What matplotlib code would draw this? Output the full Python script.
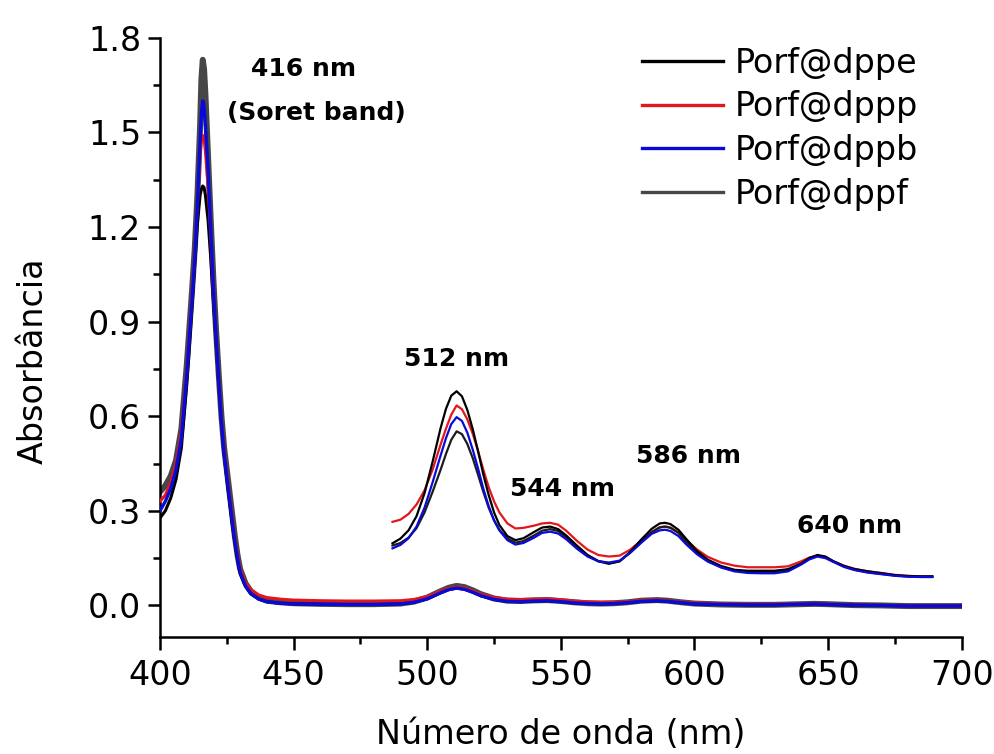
import matplotlib
matplotlib.use("Agg")
import matplotlib.pyplot as plt
from matplotlib.lines import Line2D
from matplotlib.ticker import MultipleLocator, FormatStrFormatter

plt.rcParams['font.family'] = ['DejaVu Sans']

# ---------------- data ----------------
series_names = ["Porf@dppe", "Porf@dppp", "Porf@dppb", "Porf@dppf"]
series_colors = ["#000000", "#e3161b", "#0a0ad8", "#474747"]

wl_full = [400, 402, 404, 406, 408, 410, 411, 412, 413, 414, 415, 415.5, 416, 416.5, 417, 418, 419,
           420, 421, 422, 423, 424, 425, 426, 427, 428, 429, 430, 432, 434, 437, 440,
           445, 450, 460, 470, 480, 490, 495, 500, 505, 508, 511, 514, 517, 520, 525,
           530, 535, 540, 545, 550, 555, 560, 565, 570, 575, 580, 586, 590, 595, 600,
           610, 620, 630, 640, 645, 650, 660, 670, 680, 690, 700]

abs_dppe = [0.277, 0.30, 0.34, 0.40, 0.50, 0.70, 0.82, 0.95, 1.08, 1.21, 1.30, 1.32, 1.33, 1.325, 1.30, 1.22, 1.10,
            0.96, 0.83, 0.70, 0.58, 0.48, 0.40, 0.33, 0.26, 0.20, 0.145, 0.10, 0.06, 0.036, 0.02, 0.012,
            0.007, 0.005, 0.004, 0.003, 0.003, 0.005, 0.01, 0.021, 0.04, 0.05, 0.055, 0.051, 0.042, 0.031, 0.019,
            0.013, 0.012, 0.014, 0.015, 0.012, 0.008, 0.006, 0.005, 0.006, 0.009, 0.013, 0.015, 0.013, 0.009, 0.005,
            0.003, 0.002, 0.002, 0.004, 0.005, 0.003, 0.001, 0.0, -0.002, -0.002, -0.002]

abs_dppp = [0.33, 0.35, 0.39, 0.45, 0.55, 0.74, 0.86, 0.98, 1.11, 1.27, 1.43, 1.475, 1.49, 1.48, 1.44, 1.33, 1.17,
            0.99, 0.85, 0.71, 0.59, 0.49, 0.42, 0.35, 0.28, 0.215, 0.16, 0.115, 0.072, 0.05, 0.033, 0.025,
            0.02, 0.017, 0.015, 0.014, 0.014, 0.015, 0.019, 0.028, 0.045, 0.054, 0.058, 0.055, 0.046, 0.036, 0.025,
            0.02, 0.019, 0.02, 0.021, 0.018, 0.014, 0.011, 0.01, 0.01, 0.012, 0.016, 0.017, 0.015, 0.011, 0.008,
            0.005, 0.004, 0.004, 0.005, 0.006, 0.004, 0.002, 0.0, -0.002, -0.002, -0.002]

abs_dppb = [0.30, 0.33, 0.37, 0.43, 0.53, 0.73, 0.85, 0.97, 1.10, 1.27, 1.47, 1.56, 1.60, 1.58, 1.52, 1.38, 1.19,
            1.00, 0.85, 0.71, 0.58, 0.48, 0.41, 0.34, 0.27, 0.205, 0.15, 0.105, 0.062, 0.038, 0.02, 0.012,
            0.007, 0.005, 0.004, 0.003, 0.003, 0.005, 0.01, 0.021, 0.04, 0.05, 0.055, 0.051, 0.042, 0.031, 0.019,
            0.013, 0.012, 0.014, 0.015, 0.012, 0.008, 0.006, 0.005, 0.006, 0.009, 0.013, 0.015, 0.013, 0.009, 0.005,
            0.003, 0.002, 0.002, 0.004, 0.005, 0.003, 0.001, 0.0, -0.002, -0.002, -0.002]

abs_dppf = [0.36, 0.38, 0.41, 0.46, 0.56, 0.76, 0.88, 1.00, 1.13, 1.30, 1.52, 1.67, 1.73, 1.70, 1.62, 1.42, 1.22,
            1.03, 0.87, 0.73, 0.60, 0.50, 0.43, 0.36, 0.29, 0.22, 0.16, 0.115, 0.07, 0.045, 0.025, 0.015,
            0.01, 0.007, 0.005, 0.004, 0.004, 0.006, 0.012, 0.025, 0.045, 0.056, 0.062, 0.058, 0.048, 0.036, 0.022,
            0.015, 0.014, 0.016, 0.017, 0.014, 0.01, 0.007, 0.006, 0.007, 0.01, 0.015, 0.017, 0.015, 0.01, 0.006,
            0.003, 0.002, 0.002, 0.004, 0.005, 0.004, 0.001, 0.0, -0.002, -0.002, -0.002]

# magnified Q-band region (drawn offset above the spectra in the original figure)
wl_mag = [487, 490, 493, 496, 499, 502, 505, 507, 509, 511,
          513, 515, 517, 519, 521, 523, 525, 527, 530, 533,
          536, 540, 543, 546, 549, 552, 556, 560, 564, 568,
          572, 576, 580, 584, 587, 589, 591, 594, 597, 601,
          605, 610, 615, 620, 625, 630, 635, 640, 643, 646,
          649, 652, 656, 660, 665, 670, 675, 680, 685, 689]

mag_dppe = [0.197, 0.212, 0.238, 0.283, 0.356, 0.455, 0.562, 0.623, 0.665, 0.679,
            0.663, 0.62, 0.56, 0.49, 0.415, 0.35, 0.295, 0.255, 0.22, 0.207,
            0.213, 0.233, 0.247, 0.25, 0.242, 0.222, 0.19, 0.16, 0.14, 0.132,
            0.14, 0.17, 0.208, 0.243, 0.26, 0.262, 0.258, 0.24, 0.21, 0.172,
            0.145, 0.125, 0.113, 0.11, 0.11, 0.11, 0.115, 0.133, 0.15, 0.16,
            0.155, 0.14, 0.125, 0.115, 0.108, 0.102, 0.096, 0.093, 0.092, 0.092]

mag_dppp = [0.265, 0.272, 0.29, 0.32, 0.365, 0.43, 0.51, 0.56, 0.605, 0.634,
            0.622, 0.59, 0.545, 0.49, 0.43, 0.375, 0.33, 0.295, 0.26, 0.244,
            0.246, 0.253, 0.26, 0.262, 0.256, 0.237, 0.205, 0.177, 0.16, 0.155,
            0.158, 0.177, 0.205, 0.233, 0.248, 0.25, 0.247, 0.232, 0.207, 0.177,
            0.154, 0.136, 0.126, 0.121, 0.121, 0.121, 0.124, 0.14, 0.152, 0.158,
            0.154, 0.14, 0.126, 0.116, 0.108, 0.103, 0.097, 0.094, 0.092, 0.092]

mag_dppb = [0.181, 0.192, 0.213, 0.25, 0.31, 0.39, 0.475, 0.53, 0.575, 0.597,
            0.585, 0.548, 0.495, 0.435, 0.37, 0.315, 0.27, 0.238, 0.207, 0.193,
            0.198, 0.215, 0.23, 0.234, 0.228, 0.21, 0.18, 0.155, 0.14, 0.136,
            0.142, 0.167, 0.198, 0.227, 0.238, 0.24, 0.236, 0.22, 0.193, 0.162,
            0.139, 0.12, 0.108, 0.103, 0.102, 0.102, 0.108, 0.13, 0.146, 0.155,
            0.15, 0.138, 0.122, 0.112, 0.104, 0.099, 0.094, 0.091, 0.09, 0.09]

mag_dppf = [0.19, 0.198, 0.215, 0.245, 0.295, 0.36, 0.43, 0.48, 0.525, 0.552,
            0.543, 0.512, 0.468, 0.415, 0.36, 0.31, 0.27, 0.24, 0.212, 0.199,
            0.204, 0.222, 0.237, 0.242, 0.236, 0.217, 0.186, 0.159, 0.141, 0.134,
            0.14, 0.168, 0.2, 0.232, 0.247, 0.25, 0.246, 0.23, 0.2, 0.167,
            0.143, 0.123, 0.111, 0.106, 0.106, 0.106, 0.11, 0.132, 0.148, 0.157,
            0.152, 0.139, 0.123, 0.113, 0.105, 0.1, 0.095, 0.092, 0.091, 0.091]

annot_texts = ["416 nm", "(Soret band)", "512 nm", "544 nm", "586 nm", "640 nm"]
annot_x = [453.6, 458.6, 511.0, 550.5, 597.6, 657.9]
annot_y = [1.70, 1.56, 0.78, 0.368, 0.473, 0.252]

x_label = "Número de onda (nm)"
y_label = "Absorbância"

# ---------------- figure ----------------
fig = plt.figure(figsize=(9.95, 7.54), dpi=100)
ax = fig.add_axes([0.1608, 0.1552, 0.8057, 0.7948])

full = [abs_dppe, abs_dppp, abs_dppb, abs_dppf]
mag = [mag_dppe, mag_dppp, mag_dppb, mag_dppf]
full_lw = [2.2, 2.2, 2.4, 4.3]
full_z = [3, 4, 5, 2]
for vals, col, lw, z in zip(full, series_colors, full_lw, full_z):
    ax.plot(wl_full, vals, color=col, lw=lw, zorder=z,
            solid_joinstyle='round', solid_capstyle='round')

mag_colors = ["#000000", "#e3161b", "#0a0ad8", "#1c1c1c"]
mag_z = [6, 5, 7, 5]
for vals, col, z in zip(mag, mag_colors, mag_z):
    ax.plot(wl_mag, vals, color=col, lw=1.6, zorder=z, solid_joinstyle='round')

for t, x, y in zip(annot_texts, annot_x, annot_y):
    ax.text(x, y, t, ha='center', va='center', fontsize=18, fontweight='bold')

ax.set_xlim(400, 700)
ax.set_ylim(-0.1, 1.8)
ax.xaxis.set_major_locator(MultipleLocator(50))
ax.xaxis.set_minor_locator(MultipleLocator(25))
ax.yaxis.set_major_locator(MultipleLocator(0.3))
ax.yaxis.set_minor_locator(MultipleLocator(0.15))
ax.yaxis.set_major_formatter(FormatStrFormatter('%.1f'))

for s in ['top', 'right']:
    ax.spines[s].set_visible(False)
for s in ['left', 'bottom']:
    ax.spines[s].set_linewidth(1.8)

ax.tick_params(which='major', direction='out', length=9, width=1.8, labelsize=24)
ax.tick_params(which='minor', direction='out', length=4.8, width=1.8)
ax.tick_params(axis='y', which='major', pad=4.5)
ax.tick_params(axis='x', which='major', pad=7)

ax.set_xlabel(x_label, fontsize=24)
ax.set_ylabel(y_label, fontsize=24)
ax.xaxis.set_label_coords(0.5, -0.135)
ax.yaxis.set_label_coords(-0.137, 0.4606)

handles = [Line2D([0], [0], color=c, lw=2.4) for c in series_colors]
fig.legend(handles, series_names, loc='upper left', bbox_to_anchor=(0.6452, 0.9383),
           frameon=False, fontsize=24, handlelength=2.43, handletextpad=0.36,
           labelspacing=0.32, borderpad=0, borderaxespad=0)

fig.savefig("out.png", dpi=100)
